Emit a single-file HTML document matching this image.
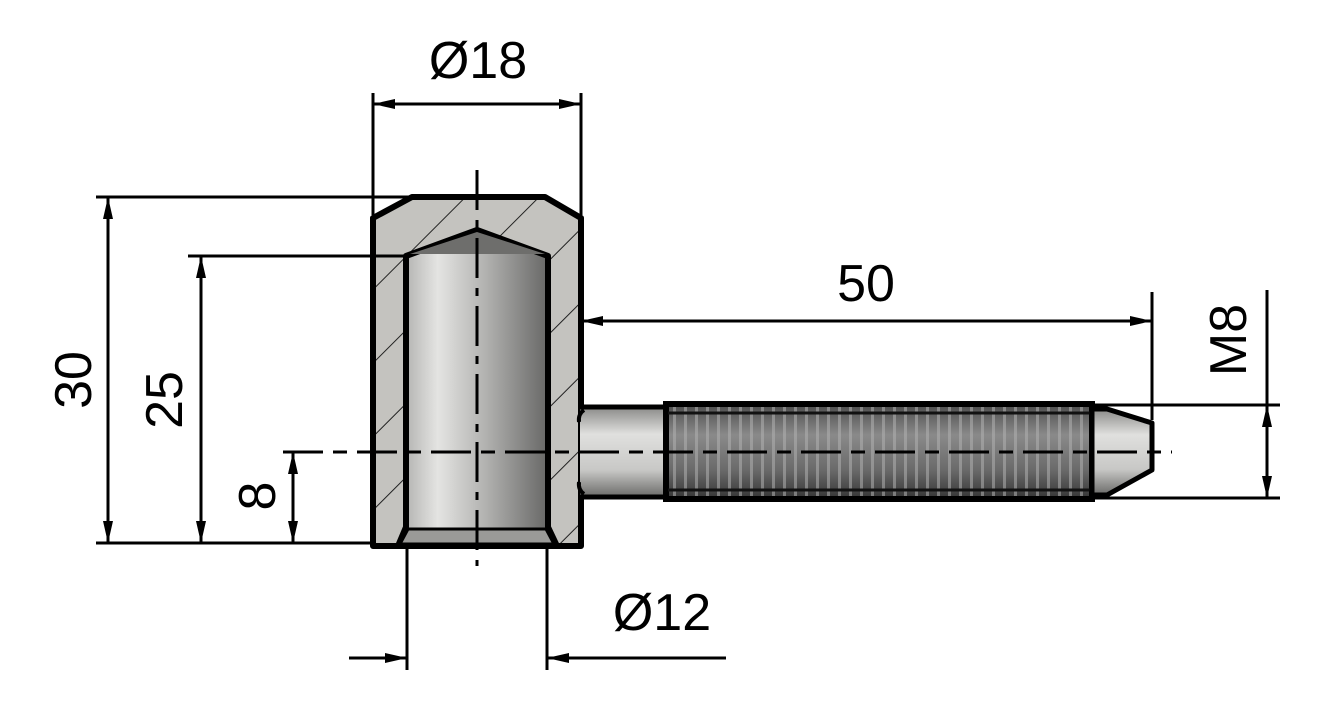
<!DOCTYPE html>
<html><head><meta charset="utf-8"><style>html,body{margin:0;padding:0;background:#fff}svg{display:block}text{font-family:"Liberation Sans",Arial,sans-serif;fill:#000}</style></head>
<body>
<svg width="1320" height="725" viewBox="0 0 1320 725" xmlns="http://www.w3.org/2000/svg">
<defs>
<pattern id="hatch" patternUnits="userSpaceOnUse" width="52" height="52" patternTransform="rotate(-45)">
<rect width="52" height="52" fill="#c4c3bf"/>
<line x1="0" y1="0" x2="52" y2="0" stroke="#222" stroke-width="2"/>
</pattern>
<linearGradient id="bore" x1="0" x2="1" y1="0" y2="0">
<stop offset="0" stop-color="#a9a9a7"/><stop offset="0.25" stop-color="#e4e4e2"/><stop offset="0.55" stop-color="#b2b2b0"/><stop offset="1" stop-color="#5d5d5c"/>
</linearGradient>
<linearGradient id="pin" x1="0" x2="0" y1="0" y2="1">
<stop offset="0" stop-color="#8a8a88"/><stop offset="0.3" stop-color="#e0e0de"/><stop offset="0.7" stop-color="#c8c8c6"/><stop offset="1" stop-color="#6a6a68"/>
</linearGradient>
<linearGradient id="thr" x1="0" x2="0" y1="0" y2="1">
<stop offset="0" stop-color="#444"/><stop offset="0.35" stop-color="#8a8a8a"/><stop offset="0.7" stop-color="#6a6a6a"/><stop offset="1" stop-color="#333"/>
</linearGradient>
<pattern id="threads" patternUnits="userSpaceOnUse" width="11" height="100">
<rect width="11" height="100" fill="url(#thr)"/>
<rect x="2" width="3" height="100" fill="#b0b0b0" opacity="0.55"/>
</pattern>
<marker id="a" viewBox="0 0 22 12" refX="22" refY="6" markerWidth="22" markerHeight="12" markerUnits="userSpaceOnUse" orient="auto-start-reverse"><path d="M0,1 L22,6 L0,11 Z" fill="#000"/></marker>
</defs>

<path d="M373,218 L412,197 L545,197 L581,218 L581,546 L373,546 Z" fill="url(#hatch)" stroke="#000" stroke-width="6" stroke-linejoin="round"/>
<path d="M406,256 L477,230 L548,256 L548,527 L557,546 L398,546 L406,527 Z" fill="url(#bore)" stroke="#000" stroke-width="6" stroke-linejoin="round"/>
<path d="M410,254 L477,232 L545,254 Z" fill="#6e6e6c"/>
<path d="M400,544 L408,529 L546,529 L554,544 Z" fill="#9a9a98" stroke="#000" stroke-width="3"/>

<rect x="580" y="407" width="86" height="90" fill="url(#pin)"/>
<line x1="580" y1="407" x2="666" y2="407" stroke="#000" stroke-width="5"/>
<line x1="580" y1="497" x2="666" y2="497" stroke="#000" stroke-width="5"/>
<path d="M584,410 q-6,4 -5,12 M584,494 q-6,-4 -5,-12" stroke="#000" stroke-width="4" fill="none"/>
<rect x="666" y="404" width="426" height="95" fill="url(#threads)" stroke="#000" stroke-width="6"/>
<line x1="668" y1="413" x2="1090" y2="413" stroke="#111" stroke-width="3"/>
<line x1="668" y1="490" x2="1090" y2="490" stroke="#111" stroke-width="3"/>
<path d="M1092,409 L1107,409 L1152,423 L1152,470 L1107,495 L1092,495 Z" fill="url(#pin)" stroke="#000" stroke-width="5" stroke-linejoin="round"/>

<line x1="477" y1="170" x2="477" y2="566" stroke="#000" stroke-width="3" stroke-dasharray="40,10,8,10"/>
<line x1="283" y1="452" x2="1172" y2="452" stroke="#000" stroke-width="3" stroke-dasharray="40,10,14,10"/>

<g stroke="#000" stroke-width="3" fill="none">
<line x1="373" y1="93" x2="373" y2="215"/>
<line x1="581" y1="93" x2="581" y2="215"/>
<line x1="373" y1="104" x2="581" y2="104" marker-start="url(#a)" marker-end="url(#a)"/>
<line x1="96" y1="197" x2="412" y2="197"/>
<line x1="96" y1="543" x2="373" y2="543"/>
<line x1="108" y1="197" x2="108" y2="543" marker-start="url(#a)" marker-end="url(#a)"/>
<line x1="188" y1="256" x2="406" y2="256"/>
<line x1="201" y1="256" x2="201" y2="543" marker-start="url(#a)" marker-end="url(#a)"/>
<line x1="293" y1="452" x2="293" y2="543" marker-start="url(#a)" marker-end="url(#a)"/>
<line x1="1152" y1="292" x2="1152" y2="420"/>
<line x1="581" y1="321" x2="1152" y2="321" marker-start="url(#a)" marker-end="url(#a)"/>
<line x1="1092" y1="405" x2="1280" y2="405"/>
<line x1="1092" y1="498" x2="1280" y2="498"/>
<line x1="1267" y1="290" x2="1267" y2="498"/>
<line x1="1267" y1="428" x2="1267" y2="405" marker-end="url(#a)"/>
<line x1="1267" y1="475" x2="1267" y2="498" marker-end="url(#a)"/>
<line x1="407" y1="546" x2="407" y2="670"/>
<line x1="547" y1="546" x2="547" y2="670"/>
<line x1="349" y1="658" x2="407" y2="658" marker-end="url(#a)"/>
<line x1="726" y1="658" x2="547" y2="658" marker-end="url(#a)"/>
</g>

<g font-size="52">
<text x="478" y="78" text-anchor="middle">Ø18</text>
<text x="866" y="301" text-anchor="middle">50</text>
<text x="662" y="630" text-anchor="middle">Ø12</text>
<text transform="translate(91,380) rotate(-90)" text-anchor="middle">30</text>
<text transform="translate(182,400) rotate(-90)" text-anchor="middle">25</text>
<text transform="translate(275,496) rotate(-90)" text-anchor="middle">8</text>
<text transform="translate(1246,340) rotate(-90)" text-anchor="middle">M8</text>
</g>
</svg>
</body></html>
